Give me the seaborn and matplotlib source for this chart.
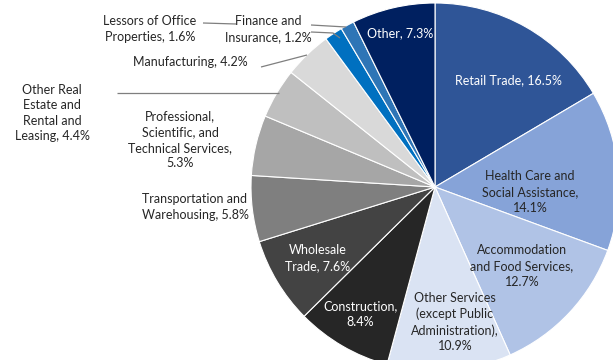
import matplotlib
matplotlib.use("Agg")
import matplotlib.pyplot as plt
import seaborn as sns

# Share of establishments by industry (percent)
industries = [
    "Retail Trade",
    "Health Care and Social Assistance",
    "Accommodation and Food Services",
    "Other Services (except Public Administration)",
    "Construction",
    "Wholesale Trade",
    "Transportation and Warehousing",
    "Professional, Scientific, and Technical Services",
    "Other Real Estate and Rental and Leasing",
    "Manufacturing",
    "Lessors of Office Properties",
    "Finance and Insurance",
    "Other",
]
shares = [16.5, 14.1, 12.7, 10.9, 8.4, 7.6, 5.8, 5.3, 4.4, 4.2, 1.6, 1.2, 7.3]
label_text = [
    "Retail Trade, {}%",
    "Health Care and\nSocial Assistance,\n{}%",
    "Accommodation\nand Food Services,\n{}%",
    "Other Services\n(except Public\nAdministration),\n{}%",
    "Construction,\n{}%",
    "Wholesale\nTrade, {}%",
    "Transportation and\nWarehousing, {}%",
    "Professional,\nScientific, and\nTechnical Services,\n{}%",
    "Other Real\nEstate and\nRental and\nLeasing, {}%",
    "Manufacturing, {}%",
    "Lessors of Office\nProperties, {}%",
    "Finance and\nInsurance, {}%",
    "Other, {}%",
]

colors = [
    "#2F5597", "#86A3D8", "#B0C3E6", "#DAE3F3",
    "#262626", "#434343", "#7F7F7F", "#A6A6A6",
    "#BFBFBF", "#D9D9D9", "#0070C0", "#2E75B6", "#002060",
]

sns.set_theme(style="white")
plt.rcParams["font.family"] = ["Lato", "DejaVu Sans"]

W, H = 613, 360
fig = plt.figure(figsize=(W / 100, H / 100), dpi=100)
ax = fig.add_axes([0, 0, 1, 1])


def px(x, y):
    """Pixel position (origin top-left) to data coordinates."""
    return x, H - y


cx, cy = px(435, 187)
R = 184
ax.pie(
    shares,
    colors=colors,
    startangle=90,
    counterclock=False,
    center=(cx, cy),
    radius=R,
    wedgeprops=dict(edgecolor="white", linewidth=0.8),
)
ax.set_xlim(0, W)
ax.set_ylim(0, H)
ax.set_aspect("equal")
ax.axis("off")

# Label placement (pixel coordinates) and text colour per wedge
label_pos = [
    (508, 80), (530, 192), (522, 266), (455, 322),
    (360, 314), (318, 258), (195, 207), (180, 140),
    (52, 113), (190, 62), (150, 29), (268, 29), (400, 33),
]
dark = "#262626"
label_colors = [
    "white", dark, dark, dark,
    "white", "white", dark, dark,
    dark, dark, dark, dark, "white",
]

for txt, val, (x, y), c in zip(label_text, shares, label_pos, label_colors):
    ax.text(*px(x, y), txt.format(val), ha="center", va="center",
            fontsize=9, color=c, linespacing=1.36)

# Leader lines for the small outside slices
leaders = [
    [(203, 23), (236, 24)],
    [(311, 25), (346, 27)],
    [(311, 32), (333, 33), (340, 38)],
    [(261, 67), (307, 55)],
    [(117, 93), (279, 93)],
]
for pts in leaders:
    xs, ys = zip(*[px(x, y) for x, y in pts])
    ax.plot(xs, ys, color="#7F7F7F", lw=0.9, solid_capstyle="butt")

fig.savefig("out.png", dpi=100)
